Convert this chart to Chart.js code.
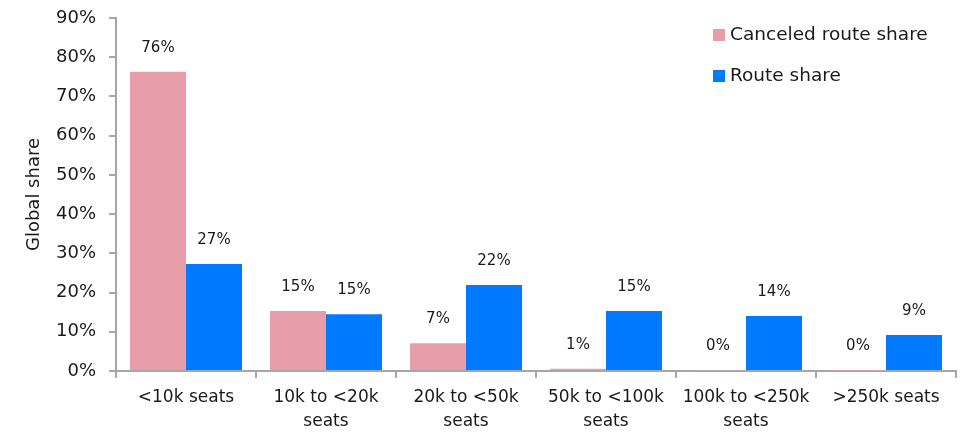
<!DOCTYPE html>
<html>
<head>
<meta charset="utf-8">
<script src="https://cdn.jsdelivr.net/npm/chart.js@4.4.1/dist/chart.umd.min.js"></script>
<style>
  html, body { margin: 0; padding: 0; background: #fff; }
  #wrap { width: 962px; height: 434px; position: relative; }
</style>
</head>
<body>
<div id="wrap"><canvas id="seatChart"></canvas></div>
<script>
// categories and values (percent)
const categories = [
  "<10k seats",
  ["10k to <20k", "seats"],
  ["20k to <50k", "seats"],
  ["50k to <100k", "seats"],
  ["100k to <250k", "seats"],
  ">250k seats"
];
const canceledShare = [76.3, 15.3, 7.1, 0.6, 0.2, 0.1];
const routeShare = [27.3, 14.5, 21.9, 15.3, 14.0, 9.2];
const canceledLabels = ["76%", "15%", "7%", "1%", "0%", "0%"];
const routeLabels = ["27%", "15%", "22%", "15%", "14%", "9%"];
const yTicks = [0, 10, 20, 30, 40, 50, 60, 70, 80, 90];

const FONT = "'DejaVu Sans', sans-serif";
const colors = {
  pink: "rgb(232, 158, 170)",
  blue: "rgb(0, 122, 255)",
  axis: "#a6a6a6",
  text: "#1a1a1a"
};

// value labels above the bars
const valueLabels = {
  id: "valueLabels",
  afterDatasetsDraw(chart) {
    const ctx = chart.ctx;
    const texts = [canceledLabels, routeLabels];
    ctx.save();
    ctx.font = "15px " + FONT;
    ctx.fillStyle = colors.text;
    ctx.textAlign = "center";
    ctx.textBaseline = "middle";
    chart.data.datasets.forEach((ds, i) => {
      chart.getDatasetMeta(i).data.forEach((bar, j) => {
        ctx.fillText(texts[i][j], bar.x, bar.y - 24);
      });
    });
    ctx.restore();
  }
};

// legend drawn at top right, stacked
const cornerLegend = {
  id: "cornerLegend",
  afterDraw(chart) {
    const ctx = chart.ctx;
    ctx.save();
    ctx.font = "18.5px " + FONT;
    ctx.textBaseline = "middle";
    chart.data.datasets.forEach((ds, i) => {
      const y = 35 + i * 41;
      ctx.fillStyle = ds.backgroundColor;
      ctx.fillRect(713, y - 6, 12, 12);
      ctx.fillStyle = colors.text;
      ctx.fillText(ds.label, 730, y);
    });
    ctx.restore();
  }
};

const ctx = document.getElementById("seatChart").getContext("2d");
new Chart(ctx, {
  type: "bar",
  data: {
    labels: categories,
    datasets: [
      {
        label: "Canceled route share",
        data: canceledShare,
        backgroundColor: colors.pink,
        categoryPercentage: 0.8,
        barPercentage: 1.0
      },
      {
        label: "Route share",
        data: routeShare,
        backgroundColor: colors.blue,
        categoryPercentage: 0.8,
        barPercentage: 1.0
      }
    ]
  },
  options: {
    responsive: true,
    maintainAspectRatio: false,
    animation: false,
    layout: { padding: { top: 18, right: 6, left: 24, bottom: 0 } },
    plugins: {
      legend: { display: false },
      tooltip: { enabled: false }
    },
    scales: {
      x: {
        grid: {
          display: true,
          drawOnChartArea: false,
          drawTicks: true,
          tickLength: 7,
          color: colors.axis,
          lineWidth: 2
        },
        border: { color: colors.axis, width: 2 },
        ticks: {
          color: colors.text,
          font: { family: FONT, size: 17, lineHeight: 1.45 },
          maxRotation: 0,
          autoSkip: false,
          padding: 7
        },
        afterFit(scale) { scale.height = 63; }
      },
      y: {
        min: 0,
        max: 90,
        afterBuildTicks(scale) {
          scale.ticks = yTicks.map(v => ({ value: v }));
        },
        grid: {
          display: true,
          drawOnChartArea: false,
          drawTicks: true,
          tickLength: 7,
          color: colors.axis,
          lineWidth: 2
        },
        border: { color: colors.axis, width: 2 },
        ticks: {
          color: colors.text,
          font: { family: FONT, size: 18 },
          padding: 13,
          callback: v => v + "%"
        },
        title: {
          display: true,
          text: "Global share",
          color: colors.text,
          font: { family: FONT, size: 18 },
          padding: { top: 0, bottom: 4 }
        },
        afterFit(scale) {
          scale.width = 92;
          scale.paddingTop = 0;
          scale.paddingBottom = 0;
        }
      }
    }
  },
  plugins: [valueLabels, cornerLegend]
});
</script>
</body>
</html>
